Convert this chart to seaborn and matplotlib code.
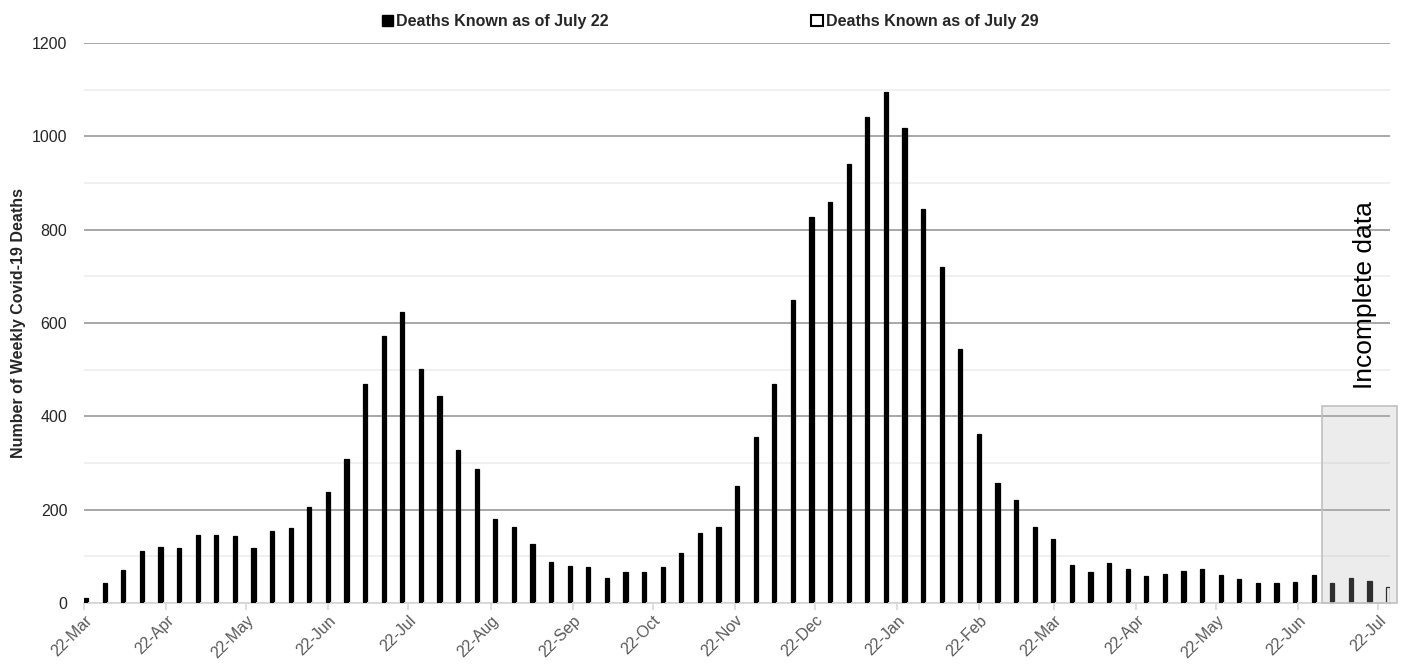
import matplotlib
matplotlib.use("Agg")
import matplotlib.pyplot as plt
from matplotlib.patches import Patch, Rectangle
import pandas as pd
import seaborn as sns

# weekly deaths, weeks starting 22-Mar-2020
first_week = "2020-03-22"
deaths_jul22 = [10, 42, 70, 112, 120, 118, 145, 145, 143, 118,
                155, 160, 205, 238, 308, 470, 573, 623, 502, 443,
                327, 287, 180, 162, 126, 88, 80, 78, 53, 67,
                67, 78, 108, 150, 162, 250, 355, 470, 650, 828,
                860, 940, 1042, 1095, 1018, 845, 720, 545, 362, 258,
                220, 163, 138, 82, 67, 85, 73, 57, 62, 68,
                73, 60, 52, 42, 42, 44, 60, 42, 53, 47,
                0]
# same counts a week later, plus the newest week
deaths_jul29 = deaths_jul22[:-1] + [35]

tick_first, tick_last = "2020-03-22", "2021-07-22"
incomplete_from, incomplete_to = "2021-07-01", "2021-07-29"
incomplete_top = 422
label_jul22 = "Deaths Known as of July 22"
label_jul29 = "Deaths Known as of July 29"

bar_days = 1.6
narrow = ["Liberation Sans Narrow", "Liberation Sans", "DejaVu Sans"]

sns.set_theme(style="white")
plt.rcParams["font.family"] = ["Liberation Sans", "DejaVu Sans"]

start = pd.Timestamp(first_week)
weeks = pd.date_range(first_week, periods=len(deaths_jul22), freq="7D")
day = (weeks - start).days + bar_days / 2
df = pd.DataFrame({"day": day, "jul22": deaths_jul22, "jul29": deaths_jul29})

fig = plt.figure(figsize=(14.06, 6.64), dpi=100)
ax = fig.add_axes([84 / 1406, 61 / 664, 1306 / 1406, 560 / 664])

sns.barplot(data=df, x="day", y="jul29", native_scale=True, width=bar_days / 7,
            color="white", edgecolor="black", linewidth=0.9, errorbar=None,
            saturation=1, ax=ax, zorder=2)
sns.barplot(data=df, x="day", y="jul22", native_scale=True, width=bar_days / 7,
            color="black", linewidth=0, errorbar=None, saturation=1, ax=ax,
            zorder=3)

# x ticks on the 22nd of each month
tick_dates = pd.date_range(tick_first, tick_last, freq=pd.DateOffset(months=1))
ax.set_xticks((tick_dates - start).days)
ax.set_xticklabels([d.strftime("%d-%b") for d in tick_dates], rotation=45,
                   ha="right", rotation_mode="anchor", color="#595959",
                   fontsize=11.5)
ax.set_xlim(0, 491.5)
ax.set_xlabel("")

ax.set_ylim(0, 1200)
ax.set_yticks(range(0, 1201, 200))
ax.set_yticks(range(100, 1200, 200), minor=True)
ax.tick_params(axis="y", which="both", length=0, pad=12, labelsize=11.5,
               labelcolor="#262626")
ax.tick_params(axis="x", which="major", length=5, width=1.2, color="#d9d9d9",
               direction="out", pad=2, bottom=True)
ax.grid(axis="y", which="major", color="#a0a0a0", linewidth=1.3)
ax.grid(axis="y", which="minor", color="#efefef", linewidth=1.3)
ax.set_axisbelow(True)
for side in ["left", "right", "top"]:
    ax.spines[side].set_visible(False)
ax.spines["bottom"].set_color("#d9d9d9")
ax.spines["bottom"].set_linewidth(1.3)

ax.set_ylabel("Number of Weekly Covid-19 Deaths", fontsize=11.5,
              fontweight="bold", family=narrow, labelpad=4)

# shaded box over the last weeks
x0 = (pd.Timestamp(incomplete_from) - start).days
x1 = (pd.Timestamp(incomplete_to) - start).days
ax.add_patch(Rectangle((x0, 0), x1 - x0, incomplete_top,
                       facecolor=(0.72, 0.72, 0.72, 0.26), edgecolor="#c0c0c0",
                       linewidth=1.2, clip_on=False, zorder=4))
ax.text((x0 + x1) / 2 + 2, 660, "Incomplete data", rotation=90, ha="center",
        va="center", fontsize=19, color="black")

handles = [Patch(facecolor="black", edgecolor="black"),
           Patch(facecolor="white", edgecolor="black", linewidth=1.5)]
fig.legend(handles, [label_jul22, label_jul29], loc="upper center",
           bbox_to_anchor=(0.505, 1.0), ncol=2, frameon=False,
           columnspacing=12.7, handlelength=0.7, handleheight=0.7,
           handletextpad=0.2, prop={"family": narrow, "weight": "bold",
                                    "size": 11.5})

fig.savefig("out.png", dpi=100)
